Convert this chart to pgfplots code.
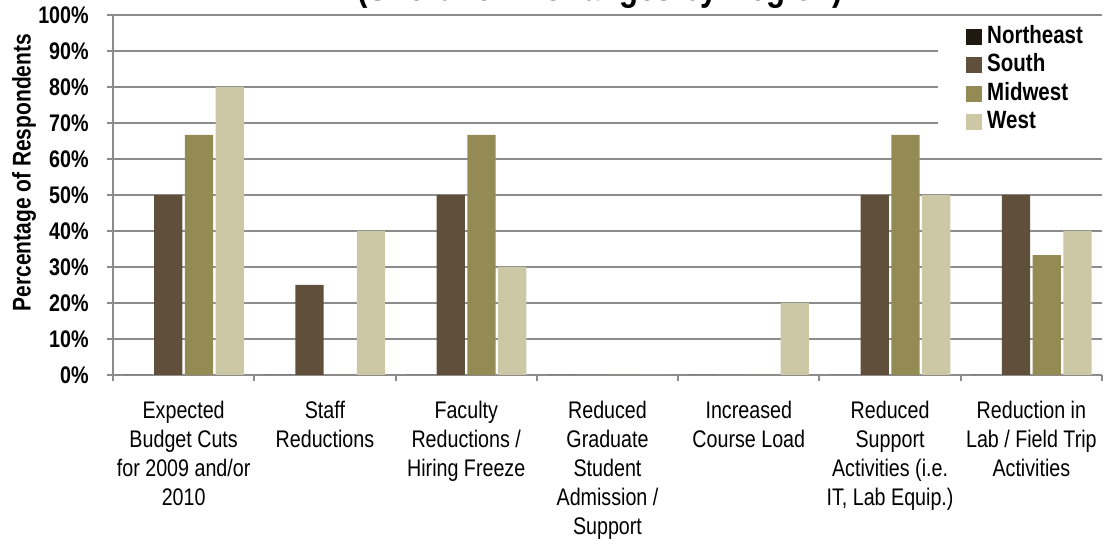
\documentclass[border=0pt]{standalone}
\usepackage{fontspec}
\setmainfont{Liberation Sans}[FakeStretch=0.82]
\usepackage{pgfplots}
\pgfplotsset{compat=1.18}
\definecolor{cNE}{HTML}{1F1A10}
\definecolor{cS}{HTML}{604F3A}
\definecolor{cM}{HTML}{948A54}
\definecolor{cW}{HTML}{CCC8A6}
\definecolor{gridc}{HTML}{8C8C8C}
\begin{document}
\begin{tikzpicture}
\begin{axis}[
  at={(56.5pt,85pt)}, anchor=south west,
  scale only axis, width=494.5pt, height=180pt,
  ymin=0, ymax=100, xmin=-0.5, xmax=6.5,
  axis x line=bottom, axis y line=left,
  axis line style={gridc, line width=1pt, -},
  ymajorgrids, grid style={gridc, line width=1pt},
  tick align=outside, major tick length=3pt,
  tick style={gridc, line width=1pt},
  ytick={0,10,...,100},
  yticklabels={0\%,10\%,20\%,30\%,40\%,50\%,60\%,70\%,80\%,90\%,100\%},
  yticklabel style={font=\bfseries\fontsize{12}{14}\selectfont, inner sep=0pt, xshift=-9pt},
  xtick={-0.5,0.5,...,6.5},
  x tick label as interval,
  xticklabels={{Expected\\Budget Cuts\\for 2009 and/or\\2010},
    {Staff\\Reductions},
    {Faculty\\Reductions /\\Hiring Freeze},
    {Reduced\\Graduate\\Student\\Admission /\\Support},
    {Increased\\Course Load},
    {Reduced\\Support\\Activities (i.e.\\IT, Lab Equip.)},
    {Reduction in\\Lab / Field Trip\\Activities}},
  xticklabel style={font=\fontsize{12}{14.5}\selectfont, align=center, yshift=-6.5pt},
  ylabel={Percentage of Respondents},
  ylabel style={font=\bfseries\fontsize{12.8}{15}\selectfont, at={(axis description cs:-0.090,0.562)}, anchor=center, rotate=0},
  legend image code/.code={\fill[#1] (0pt,-4pt) rectangle (8pt,4pt);},
  legend style={at={(rel axis cs:0.834,0.984)}, anchor=north west, fill=white, draw=none,
    font=\bfseries\fontsize{12.5}{14}\selectfont, inner xsep=14pt, inner ysep=2pt,
    row sep=2.8pt,
    nodes={inner xsep=2.5pt, inner ysep=0pt, text height=9pt, text depth=2.5pt}},
  legend cell align=left,
  clip=false,
]
\addplot[ybar, bar width=0.2, bar shift=-0.326, fill=cNE, draw=none]
  coordinates {(0,0) (1,0) (2,0) (3,0) (4,0) (5,0) (6,0)};
\addplot[ybar, bar width=0.2, bar shift=-0.109, fill=cS, draw=none]
  coordinates {(0,50) (1,25) (2,50) (3,0) (4,0) (5,50) (6,50)};
\addplot[ybar, bar width=0.2, bar shift=0.109, fill=cM, draw=none]
  coordinates {(0,66.7) (1,0) (2,66.7) (3,0) (4,0) (5,66.7) (6,33.3)};
\addplot[ybar, bar width=0.2, bar shift=0.326, fill=cW, draw=none]
  coordinates {(0,80) (1,40) (2,30) (3,0) (4,20) (5,50) (6,40)};
\legend{Northeast,South,Midwest,West}
\end{axis}
\node[font=\bfseries\fontsize{19}{22}\selectfont, anchor=base, inner sep=0pt] at (300pt,272.3pt) {(Short-Term Changes by Region)};
\pgfresetboundingbox
\useasboundingbox (0,0) rectangle (553.5pt,272.5pt);
\end{tikzpicture}
\end{document}
